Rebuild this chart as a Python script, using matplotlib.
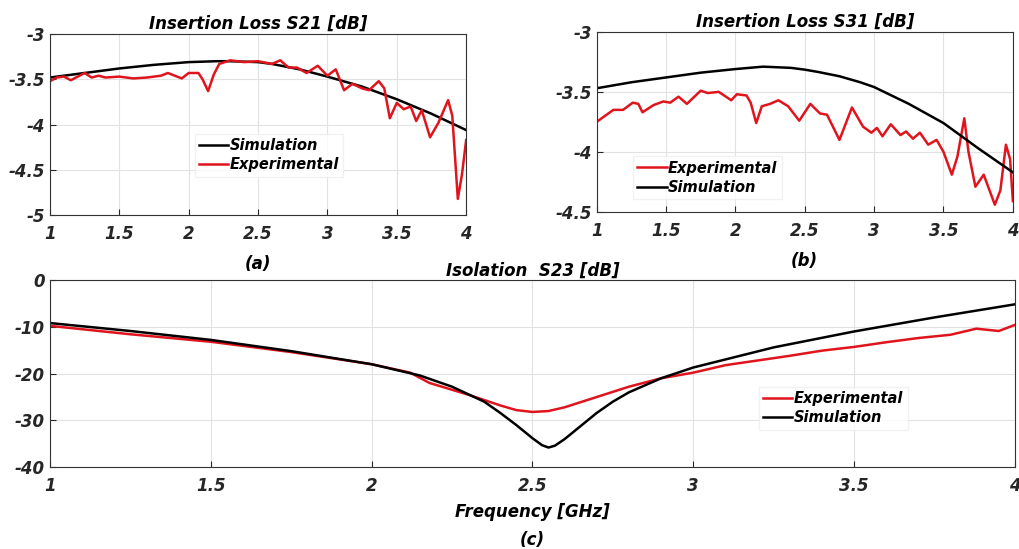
import matplotlib
matplotlib.use("Agg")
import matplotlib.pyplot as plt

# ---- (a) Insertion loss S21 ----
f_a_sim = [1.0, 1.25, 1.5, 1.75, 2.0, 2.1, 2.2, 2.3, 2.4, 2.5, 2.6, 2.7, 2.8, 2.9, 3.0,
           3.25, 3.5, 3.75, 4.0]
s21_sim = [-3.48, -3.43, -3.38, -3.34, -3.31, -3.305, -3.30, -3.30, -3.305, -3.31, -3.33,
           -3.36, -3.39, -3.43, -3.47, -3.58, -3.72, -3.88, -4.06]

f_a_exp = [1.0, 1.05, 1.1, 1.15, 1.2, 1.25, 1.3, 1.35, 1.4, 1.5, 1.6, 1.7, 1.8, 1.85,
           1.95, 2.0, 2.07, 2.1, 2.14, 2.18, 2.22, 2.3, 2.4, 2.5, 2.6, 2.66, 2.72, 2.78,
           2.85, 2.93, 3.0, 3.06, 3.12, 3.18, 3.25, 3.3, 3.37, 3.41, 3.45, 3.5, 3.55,
           3.6, 3.64, 3.68, 3.74, 3.8, 3.87, 3.9, 3.94, 3.97, 4.0]
s21_exp = [-3.52, -3.48, -3.47, -3.51, -3.47, -3.43, -3.48, -3.46, -3.48, -3.47, -3.49,
           -3.48, -3.46, -3.43, -3.49, -3.43, -3.43, -3.50, -3.63, -3.45, -3.33, -3.29,
           -3.31, -3.30, -3.33, -3.29, -3.37, -3.37, -3.43, -3.35, -3.46, -3.39, -3.62,
           -3.55, -3.60, -3.62, -3.52, -3.60, -3.93, -3.76, -3.83, -3.80, -3.96, -3.84,
           -4.14, -3.98, -3.73, -3.90, -4.82, -4.55, -4.17]

# ---- (b) Insertion loss S31 ----
f_b_sim = [1.0, 1.25, 1.5, 1.75, 2.0, 2.1, 2.2, 2.3, 2.4, 2.5, 2.6, 2.75, 2.9, 3.0,
           3.25, 3.5, 3.75, 4.0]
s31_sim = [-3.47, -3.42, -3.38, -3.34, -3.31, -3.30, -3.29, -3.295, -3.30, -3.315, -3.335,
           -3.37, -3.42, -3.46, -3.60, -3.76, -3.97, -4.17]

f_b_exp = [1.0, 1.06, 1.12, 1.19, 1.26, 1.30, 1.33, 1.41, 1.48, 1.53, 1.59, 1.65, 1.75,
           1.80, 1.88, 1.97, 2.01, 2.08, 2.11, 2.15, 2.19, 2.25, 2.31, 2.38, 2.46, 2.54,
           2.61, 2.66, 2.75, 2.84, 2.92, 2.98, 3.02, 3.06, 3.12, 3.19, 3.23, 3.28, 3.33,
           3.39, 3.45, 3.5, 3.56, 3.60, 3.65, 3.68, 3.73, 3.79, 3.87, 3.91, 3.95, 3.98, 4.0]
s31_exp = [-3.75, -3.70, -3.65, -3.65, -3.59, -3.60, -3.67, -3.61, -3.58, -3.59, -3.54,
           -3.60, -3.49, -3.51, -3.50, -3.57, -3.52, -3.53, -3.59, -3.76, -3.62, -3.60,
           -3.57, -3.62, -3.74, -3.60, -3.68, -3.69, -3.90, -3.63, -3.79, -3.84, -3.80,
           -3.87, -3.77, -3.86, -3.83, -3.89, -3.84, -3.94, -3.90, -4.00, -4.19, -4.04,
           -3.72, -4.00, -4.29, -4.19, -4.44, -4.32, -3.94, -4.06, -4.41]

# ---- (c) Isolation S23 ----
f_c_sim = [1.0, 1.25, 1.5, 1.75, 2.0, 2.15, 2.25, 2.35, 2.4, 2.45, 2.5, 2.53, 2.55,
           2.57, 2.6, 2.65, 2.7, 2.75, 2.8, 2.9, 3.0, 3.25, 3.5, 3.75, 4.0]
s23_sim = [-9.2, -10.9, -12.8, -15.2, -18.0, -20.4, -22.8, -26.0, -28.4, -31.0, -33.8,
           -35.3, -35.8, -35.4, -34.0, -31.2, -28.4, -26.0, -24.0, -21.0, -18.7, -14.4,
           -11.0, -8.0, -5.2]

f_c_exp = [1.0, 1.25, 1.5, 1.75, 2.0, 2.12, 2.18, 2.3, 2.4, 2.45, 2.5, 2.55, 2.6, 2.7,
           2.8, 2.9, 3.0, 3.1, 3.2, 3.3, 3.4, 3.5, 3.6, 3.7, 3.8, 3.88, 3.95, 4.0]
s23_exp = [-9.8, -11.6, -13.2, -15.4, -18.0, -19.8, -22.0, -24.5, -26.8, -27.8, -28.2,
           -28.0, -27.2, -25.0, -22.8, -21.0, -19.8, -18.2, -17.2, -16.2, -15.1, -14.3,
           -13.3, -12.4, -11.7, -10.4, -10.9, -9.6]

RED = "#e0141c"
font_bi = dict(fontweight="bold", fontstyle="italic")


def style_axes(ax, ylim, yticks, ylabels):
    ax.set_xlim(1, 4)
    ax.set_ylim(*ylim)
    ax.set_xticks([1, 1.5, 2, 2.5, 3, 3.5, 4])
    ax.set_xticklabels(["1", "1.5", "2", "2.5", "3", "3.5", "4"], **font_bi)
    ax.set_yticks(yticks)
    ax.set_yticklabels(ylabels, **font_bi)
    ax.tick_params(direction="in", labelsize=12, colors="#262626", length=4)
    ax.tick_params(axis="x", pad=7)
    ax.grid(True, color="#e2e2e2", linewidth=0.8)
    for s in ax.spines.values():
        s.set_color("#333333")
        s.set_linewidth(0.8)


leg_kw = dict(loc="upper left", frameon=True, fancybox=False, edgecolor="#eeeeee",
              prop=dict(weight="bold", style="italic", size=10.5),
              handlelength=2.0, handletextpad=0.1, borderpad=0.3, labelspacing=0.3)

fig = plt.figure(figsize=(10.2, 5.49), dpi=100)

ax_a = fig.add_axes([0.049, 0.608, 0.408, 0.330])
ax_a.plot(f_a_sim, s21_sim, color="black", lw=1.8, label="Simulation")
ax_a.plot(f_a_exp, s21_exp, color=RED, lw=1.8, label="Experimental")
style_axes(ax_a, (-5, -3), [-5, -4.5, -4, -3.5, -3], ["-5", "-4.5", "-4", "-3.5", "-3"])
ax_a.set_title("Insertion Loss S21 [dB]", fontsize=12, pad=4, **font_bi)
ax_a.legend(bbox_to_anchor=(0.33, 0.49), **leg_kw)
ax_a.text(0.5, -0.22, "(a)", transform=ax_a.transAxes, ha="center", va="top", fontsize=12, **font_bi)

ax_b = fig.add_axes([0.585, 0.614, 0.408, 0.328])
ax_b.plot(f_b_exp, s31_exp, color=RED, lw=1.8, label="Experimental")
ax_b.plot(f_b_sim, s31_sim, color="black", lw=1.8, label="Simulation")
style_axes(ax_b, (-4.5, -3), [-4.5, -4, -3.5, -3], ["-4.5", "-4", "-3.5", "-3"])
ax_b.set_title("Insertion Loss S31 [dB]", fontsize=12, pad=4, **font_bi)
ax_b.legend(bbox_to_anchor=(0.07, 0.35), **leg_kw)
ax_b.text(0.5, -0.22, "(b)", transform=ax_b.transAxes, ha="center", va="top", fontsize=12, **font_bi)

ax_c = fig.add_axes([0.049, 0.149, 0.946, 0.341])
ax_c.plot(f_c_exp, s23_exp, color=RED, lw=1.8, label="Experimental")
ax_c.plot(f_c_sim, s23_sim, color="black", lw=1.8, label="Simulation")
style_axes(ax_c, (-40, 0), [-40, -30, -20, -10, 0], ["-40", "-30", "-20", "-10", "0"])
ax_c.set_title("Isolation  S23 [dB]", fontsize=12, pad=3, **font_bi)
ax_c.set_xlabel("Frequency [GHz]", fontsize=12, labelpad=6, **font_bi)
ax_c.legend(bbox_to_anchor=(0.727, 0.47), **leg_kw)
ax_c.text(0.5, -0.34, "(c)", transform=ax_c.transAxes, ha="center", va="top", fontsize=12, **font_bi)

fig.savefig("out.png", dpi=100)
